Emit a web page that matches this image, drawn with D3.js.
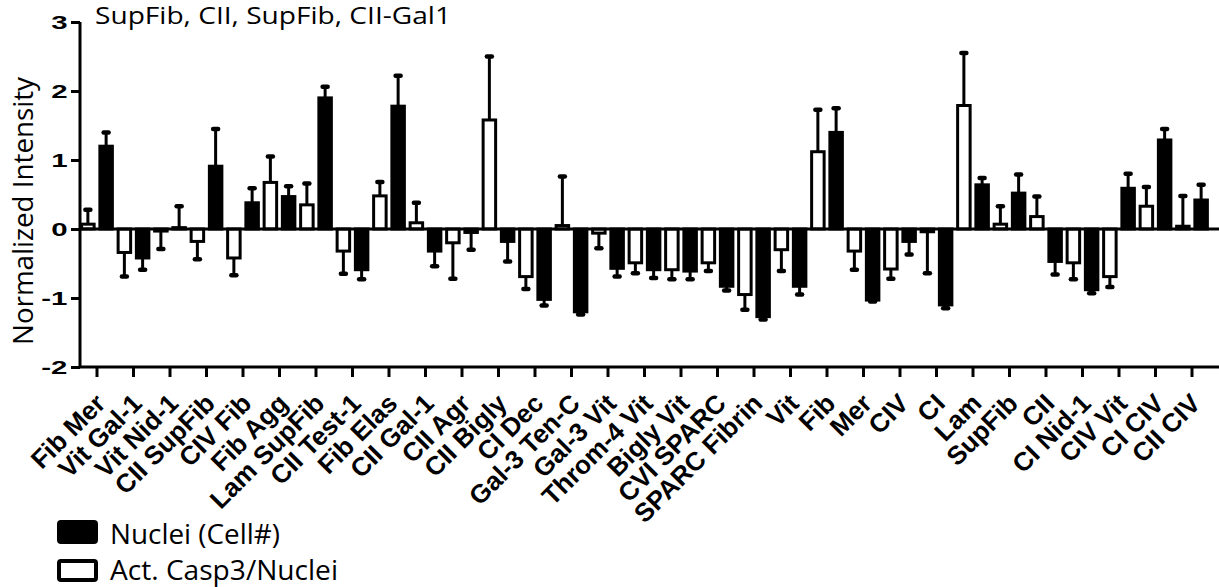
<!DOCTYPE html>
<html>
<head>
<meta charset="utf-8">
<script src="https://cdn.jsdelivr.net/npm/d3@7"></script>
<style>
  html, body { margin: 0; padding: 0; background: #fff; }
  svg { display: block; }
</style>
</head>
<body>
<svg id="chart" width="1219" height="587"></svg>
<script>
// ---------- data ----------
const categories = ["Fib Mer","Vit Gal-1","Vit Nid-1","CII SupFib","CIV Fib","Fib Agg","Lam SupFib","CII Test-1","Fib Elas","CII Gal-1","CII Agr","CII Bigly","CI Dec","Gal-3 Ten-C","Gal-3 Vit","Throm-4 Vit","Bigly Vit","CVI SPARC","SPARC Fibrin","Vit","Fib","Mer","CIV","CI","Lam","SupFib","CII","CI Nid-1","CIV Vit","CI CIV","CII CIV"];

// Act. Casp3/Nuclei (open bars)
const casp3 = [0.07,-0.34,-0.03,-0.18,-0.42,0.675,0.35,-0.32,0.48,0.09,-0.20,1.58,-0.69,0.05,-0.06,-0.49,-0.59,-0.49,-0.95,-0.30,1.12,-0.32,-0.58,-0.04,1.79,0.07,0.18,-0.49,-0.69,0.33,0.04];
const casp3Err = [0.21,0.35,0.26,0.26,0.25,0.375,0.31,0.33,0.20,0.29,0.52,0.92,0.18,0.71,0.22,0.15,0.14,0.12,0.22,0.31,0.61,0.27,0.14,0.60,0.76,0.26,0.29,0.24,0.15,0.28,0.44];

// Nuclei (Cell#) (filled bars)
const nuclei = [1.20,-0.42,0.02,0.91,0.38,0.47,1.90,-0.59,1.78,-0.32,-0.05,-0.18,-1.02,-1.20,-0.57,-0.59,-0.61,-0.83,-1.27,-0.83,1.40,-1.03,-0.18,-1.10,0.64,0.52,-0.47,-0.88,0.59,1.29,0.42];
const nucleiErr = [0.20,0.17,0.31,0.54,0.21,0.15,0.16,0.14,0.44,0.22,0.25,0.29,0.09,0.04,0.12,0.12,0.12,0.06,0.04,0.12,0.35,0.02,0.19,0.05,0.10,0.27,0.19,0.05,0.21,0.16,0.22];

const yTicks = [-2,-1,0,1,2,3];
const seriesKeys = ["casp3","nuclei"];
const seriesNames = ["Nuclei (Cell#)","Act. Casp3/Nuclei"];
const titleText = "SupFib, CII, SupFib, CII-Gal1";
const yLabel = "Normalized Intensity";

// ---------- layout ----------
const W = 1219, H = 587;
const svg = d3.select("#chart");
const axisX = 80;

const y = d3.scaleLinear().domain([-2, 3]).range([367, 22]);
const x = d3.scaleBand().domain(categories).range([78.75, 1210.25]).paddingInner(0).paddingOuter(0);
const xs = d3.scaleBand().domain(seriesKeys).range([0, x.bandwidth()]);

const rows = categories.map((c, i) => ({
  cat: c,
  bars: [
    {key: "casp3", v: casp3[i], e: casp3Err[i]},
    {key: "nuclei", v: nuclei[i], e: nucleiErr[i]}
  ]
}));

const barW = 12.5;
const gBars = svg.append("g");

rows.forEach(r => {
  r.bars.forEach(b => {
    const cx = x(r.cat) + xs(b.key) + xs.bandwidth() / 2;
    const y0 = y(0), y1 = y(b.v);
    const yEnd = y(b.v + (b.v >= 0 ? b.e : -b.e));
    gBars.append("line")
      .attr("x1", cx).attr("x2", cx)
      .attr("y1", y1).attr("y2", yEnd)
      .attr("stroke", "#000").attr("stroke-width", 3);
    gBars.append("line")
      .attr("x1", cx - 2.5).attr("x2", cx + 2.5)
      .attr("y1", yEnd).attr("y2", yEnd)
      .attr("stroke", "#000").attr("stroke-width", 4.5)
      .attr("stroke-linecap", "round");
    const top = Math.min(y0, y1), hgt = Math.max(Math.abs(y1 - y0), 0.5);
    gBars.append("rect")
      .attr("x", cx - barW / 2).attr("width", barW)
      .attr("y", top).attr("height", hgt)
      .attr("fill", b.key === "nuclei" ? "#000" : "#fff")
      .attr("stroke", "#000").attr("stroke-width", 3);
  });
});

// zero line
svg.append("line")
  .attr("x1", axisX).attr("x2", W)
  .attr("y1", y(0)).attr("y2", y(0))
  .attr("stroke", "#000").attr("stroke-width", 3);

// y axis
const yAxis = svg.append("g")
  .attr("transform", `translate(${axisX},0)`)
  .call(d3.axisLeft(y).tickValues(yTicks).tickSize(9).tickFormat(d => String(d)));
yAxis.select(".domain").attr("stroke-width", 3).attr("d", `M0,${y(3)}V${y(-2)}`);
yAxis.selectAll(".tick line").attr("stroke-width", 3);
yAxis.selectAll(".tick text")
  .attr("font-family", "Liberation Sans, Arial, sans-serif")
  .attr("font-weight", "bold").attr("font-size", 19).attr("fill", "#000")
  .attr("transform", "scale(1.55,1)").attr("x", -12.5 / 1.55).attr("dy", "0.35em");

// x axis
const xAxis = svg.append("g")
  .attr("transform", `translate(0,${y(-2)})`)
  .call(d3.axisBottom(x).tickSize(10).tickSizeOuter(0));
xAxis.select(".domain").attr("stroke-width", 3).attr("d", `M${axisX},0H${W}`);
xAxis.selectAll(".tick line").attr("stroke-width", 3);
xAxis.selectAll(".tick text")
  .attr("font-family", "Liberation Sans, Arial, sans-serif")
  .attr("font-weight", "bold").attr("font-size", 26).attr("fill", "#000")
  .attr("text-anchor", "end")
  .attr("dy", null).attr("y", null)
  .attr("transform", "translate(10,38) rotate(-45)");

// title
svg.append("text")
  .attr("x", 95).attr("y", 24)
  .attr("font-family", "Open Sans, sans-serif").attr("font-size", 23)
  .attr("fill", "#000")
  .attr("textLength", 356).attr("lengthAdjust", "spacingAndGlyphs")
  .text(titleText);

// y label
svg.append("text")
  .attr("transform", "translate(33,211) rotate(-90)")
  .attr("text-anchor", "middle")
  .attr("font-family", "Open Sans, sans-serif").attr("font-size", 27)
  .attr("fill", "#000")
  .attr("textLength", 268).attr("lengthAdjust", "spacingAndGlyphs")
  .text(yLabel);

// legend
const leg = svg.append("g");
leg.append("rect").attr("x", 58).attr("y", 521).attr("width", 39).attr("height", 22)
  .attr("rx", 3).attr("fill", "#000").attr("stroke", "#000").attr("stroke-width", 2);
leg.append("rect").attr("x", 59).attr("y", 561).attr("width", 37).attr("height", 19)
  .attr("rx", 2).attr("fill", "#fff").attr("stroke", "#000").attr("stroke-width", 4);
leg.append("text").attr("x", 110).attr("y", 544)
  .attr("font-family", "Open Sans, sans-serif").attr("font-size", 27).attr("fill", "#000")
  .attr("textLength", 170).attr("lengthAdjust", "spacingAndGlyphs")
  .text(seriesNames[0]);
leg.append("text").attr("x", 110).attr("y", 580)
  .attr("font-family", "Open Sans, sans-serif").attr("font-size", 27).attr("fill", "#000")
  .attr("textLength", 228).attr("lengthAdjust", "spacingAndGlyphs")
  .text(seriesNames[1]);
</script>
</body>
</html>
